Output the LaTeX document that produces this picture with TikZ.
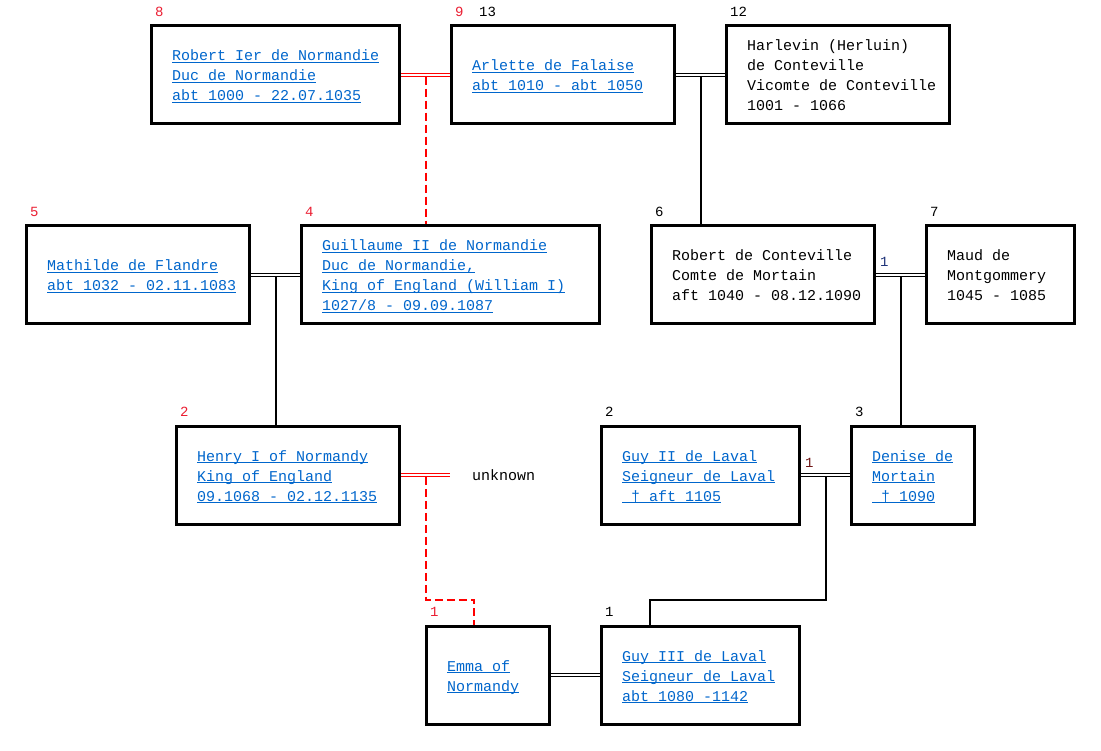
\documentclass[tikz,border=0pt]{standalone}
\usepackage{fontspec}
\setmainfont{Liberation Mono}
\usetikzlibrary{calc}
\definecolor{linkblue}{RGB}{0,102,204}
\definecolor{lred}{RGB}{255,0,0}
\definecolor{numred}{RGB}{235,30,50}
\definecolor{navynum}{RGB}{30,50,120}
\definecolor{maroonnum}{RGB}{110,20,20}
\newcommand\st{\rule[-4pt]{0pt}{20pt}}
\newcommand\lk[1]{\setbox0=\hbox{#1}\rlap{\rule[-2pt]{\wd0}{1pt}}\box0\st}
\newcommand\tx[1]{#1\st}
\begin{document}
\begin{tikzpicture}[x=1pt,y=-1pt,
  pbox/.style={draw=black, line width=3pt, minimum height=98pt, inner sep=0pt},
  ptext/.style={anchor=west, inner sep=0pt, align=left, font=\fontsize{15}{20}\selectfont},
  plink/.style={ptext, text=linkblue},
  num/.style={anchor=base west, inner sep=0pt, font=\fontsize{14}{16}\selectfont},
  conn/.style={draw=black, line width=2pt},
  marr/.style={draw=black, double=white, line width=1pt, double distance=1.5pt},
  rmarr/.style={marr, draw=lred},
  rdash/.style={draw=lred, line width=2pt, dash pattern=on 8pt off 4pt},
]
\fill[white] (0,0) rectangle (1101,751);
\useasboundingbox (0,0) rectangle (1101,751);

% boxes
\node[pbox, minimum width=248pt] (rob) at (275.5,75) {};
\node[pbox, minimum width=223pt] (arl) at (563,75) {};
\node[pbox, minimum width=223pt] (harl) at (838,75) {};
\node[pbox, minimum width=223pt] (math) at (138,275) {};
\node[pbox, minimum width=298pt] (guil) at (450.5,275) {};
\node[pbox, minimum width=223pt] (cont) at (763,275) {};
\node[pbox, minimum width=148pt] (maud) at (1000.5,275) {};
\node[pbox, minimum width=223pt] (henry) at (288,475) {};
\node[pbox, minimum width=198pt] (guy2) at (700.5,475) {};
\node[pbox, minimum width=123pt] (den) at (913,475) {};
\node[pbox, minimum width=123pt] (emma) at (488,675) {};
\node[pbox, minimum width=198pt] (guy3) at (700.5,675) {};

% texts
\node[plink] (robT) at ([xshift=22pt]rob.west) {\lk{Robert Ier de Normandie}\\\lk{Duc de Normandie}\\\lk{abt 1000 - 22.07.1035}};
\node[plink] (arlT) at ([xshift=22pt]arl.west) {\lk{Arlette de Falaise}\\\lk{abt 1010 - abt 1050}};
\node[ptext] (harlT) at ([xshift=22pt]harl.west) {\tx{Harlevin (Herluin)}\\\tx{de Conteville}\\\tx{Vicomte de Conteville}\\\tx{1001 - 1066}};
\node[plink] (mathT) at ([xshift=22pt]math.west) {\lk{Mathilde de Flandre}\\\lk{abt 1032 - 02.11.1083}};
\node[plink] (guilT) at ([xshift=22pt]guil.west) {\lk{Guillaume II de Normandie}\\\lk{Duc de Normandie,}\\\lk{King of England (William I)}\\\lk{1027/8 - 09.09.1087}};
\node[ptext] (contT) at ([xshift=22pt]cont.west) {\tx{Robert de Conteville}\\\tx{Comte de Mortain}\\\tx{aft 1040 - 08.12.1090}};
\node[ptext] (maudT) at ([xshift=22pt]maud.west) {\tx{Maud de}\\\tx{Montgommery}\\\tx{1045 - 1085}};
\node[plink] (henryT) at ([xshift=22pt]henry.west) {\lk{Henry I of Normandy}\\\lk{King of England}\\\lk{09.1068 - 02.12.1135}};
\node[plink] (guy2T) at ([xshift=22pt]guy2.west) {\lk{Guy II de Laval}\\\lk{Seigneur de Laval}\\\lk{\ † aft 1105}};
\node[plink] (denT) at ([xshift=22pt]den.west) {\lk{Denise de}\\\lk{Mortain}\\\lk{\ † 1090}};
\node[plink] (emmaT) at ([xshift=22pt]emma.west) {\lk{Emma of}\\\lk{Normandy}};
\node[plink] (guy3T) at ([xshift=22pt]guy3.west) {\lk{Guy III de Laval}\\\lk{Seigneur de Laval}\\\lk{abt 1080 -1142}};
\node[ptext, anchor=base west] (unk) at (472,480) {unknown};

% numbers
\node[num, text=numred] (n8) at ([xshift=5pt,yshift=8pt]rob.north west) {8};
\node[num, text=numred] (n9) at ([xshift=5pt,yshift=8pt]arl.north west) {9};
\node[num] (n13) at ([xshift=29pt,yshift=8pt]arl.north west) {13};
\node[num] (n12) at ([xshift=5pt,yshift=8pt]harl.north west) {12};
\node[num, text=numred] (n5) at ([xshift=5pt,yshift=8pt]math.north west) {5};
\node[num, text=numred] (n4) at ([xshift=5pt,yshift=8pt]guil.north west) {4};
\node[num] (n6) at ([xshift=5pt,yshift=8pt]cont.north west) {6};
\node[num] (n7) at ([xshift=5pt,yshift=8pt]maud.north west) {7};
\node[num, text=numred] (n2a) at ([xshift=5pt,yshift=8pt]henry.north west) {2};
\node[num] (n2b) at ([xshift=5pt,yshift=8pt]guy2.north west) {2};
\node[num] (n3) at ([xshift=5pt,yshift=8pt]den.north west) {3};
\node[num, text=numred] (n1a) at ([xshift=5pt,yshift=8pt]emma.north west) {1};
\node[num] (n1b) at ([xshift=5pt,yshift=8pt]guy3.north west) {1};
\node[num, text=navynum] (n1c) at (880,267) {1};
\node[num, text=maroonnum] (n1d) at (805,467) {1};

% marriages
\coordinate (u) at (450,475);
\draw[rmarr] (rob.east) -- (arl.west);
\draw[marr] (arl.east) -- (harl.west);
\draw[marr] (math.east) -- (guil.west);
\draw[marr] (cont.east) -- (maud.west);
\draw[rmarr] (henry.east) -- (u);
\draw[marr] (guy2.east) -- (den.west);
\draw[marr] (emma.east) -- (guy3.west);

\coordinate (m1) at ($(rob.east)!0.5!(arl.west)$);
\coordinate (m2) at ($(arl.east)!0.5!(harl.west)$);
\coordinate (m3) at ($(math.east)!0.5!(guil.west)$);
\coordinate (m4) at ($(cont.east)!0.5!(maud.west)$);
\coordinate (m5) at ($(henry.east)!0.5!(u)$);
\coordinate (m6) at ($(guy2.east)!0.5!(den.west)$);

% children
\draw[rdash] ([yshift=-1.75pt]m1) -- (m1 |- guil.north);
\draw[conn] ([yshift=-1.75pt]m2) -- (m2 |- cont.north);
\draw[conn] ([yshift=-1.75pt]m3) -- (m3 |- henry.north);
\draw[conn] ([yshift=-1.75pt]m4) -- (m4 |- den.north);
\draw[rdash] ([yshift=-1.75pt]m5) |- ([xshift=-14pt,yshift=25pt]emma.north) -- ([xshift=-14pt]emma.north);
\draw[conn] ([yshift=-1.75pt]m6) |- ([xshift=-50.5pt,yshift=25pt]guy3.north) -- ([xshift=-50.5pt]guy3.north);
\end{tikzpicture}
\end{document}
